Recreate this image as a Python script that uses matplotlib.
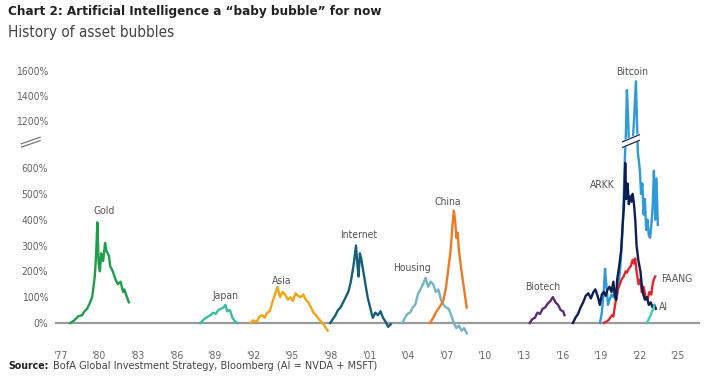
import matplotlib as mpl
mpl.use('Agg')
from matplotlib import pyplot as plt
import numpy as np

plt.rcParams['font.family'] = ['DejaVu Sans']
plt.rcParams['font.stretch'] = 'condensed'

# bubble series: (year, % gain)
gold_x = [1977.8, 1978.1, 1978.4, 1978.7, 1978.9, 1979.1, 1979.3, 1979.5, 1979.6, 1979.7, 1979.8, 1979.9,
          1980.0, 1980.1, 1980.2, 1980.35, 1980.5, 1980.6, 1980.8, 1980.9, 1981.1, 1981.3, 1981.5, 1981.7,
          1981.9, 1982.0, 1982.2, 1982.35]
gold_y = [0, 10, 25, 30, 45, 55, 75, 100, 140, 180, 260, 390,
          230, 200, 270, 240, 310, 280, 260, 220, 200, 170, 150, 160,
          120, 130, 100, 80]

japan_x = [1987.9, 1988.2, 1988.5, 1988.7, 1988.9, 1989.1, 1989.3, 1989.5, 1989.7, 1989.85, 1990.0,
           1990.2, 1990.4, 1990.6, 1990.8]
japan_y = [0, 15, 25, 30, 40, 35, 50, 55, 60, 70, 45, 50, 20, 5, 0]

asia_x = [1991.8, 1992.0, 1992.3, 1992.5, 1992.7, 1992.9, 1993.1, 1993.3, 1993.5, 1993.7, 1993.9,
          1994.1, 1994.3, 1994.5, 1994.7, 1994.9, 1995.1, 1995.3, 1995.5, 1995.7, 1995.9, 1996.1,
          1996.3, 1996.5, 1996.7, 1996.9, 1997.1, 1997.4, 1997.6, 1997.8]
asia_y = [0, 10, 5, 25, 30, 20, 40, 45, 80, 110, 140,
          100, 120, 110, 90, 100, 85, 115, 105, 100, 110, 90,
          80, 60, 40, 30, 15, 0, -15, -30]

internet_x = [1998.0, 1998.2, 1998.4, 1998.6, 1998.8, 1999.0, 1999.2, 1999.4, 1999.6, 1999.8, 2000.0,
              2000.1, 2000.2, 2000.3, 2000.4, 2000.5, 2000.7, 2000.9, 2001.1, 2001.3, 2001.5, 2001.7,
              2001.9, 2002.1, 2002.3, 2002.5, 2002.7]
internet_y = [0, 15, 30, 50, 60, 80, 100, 120, 160, 220, 300,
              230, 180, 270, 250, 220, 160, 100, 60, 20, 40, 30,
              45, 20, 5, -15, -5]

housing_x = [2003.6, 2003.8, 2004.0, 2004.2, 2004.4, 2004.6, 2004.8, 2005.0, 2005.2, 2005.4, 2005.6,
             2005.8, 2006.0, 2006.2, 2006.4, 2006.6, 2006.8, 2007.0, 2007.2, 2007.4, 2007.6, 2007.8,
             2008.0, 2008.2, 2008.4, 2008.6]
housing_y = [0, 20, 35, 40, 60, 70, 110, 130, 150, 175, 140,
             160, 150, 120, 130, 90, 70, 60, 55, 30, 0, -20,
             -10, -30, -20, -40]

china_x = [2005.75, 2006.0, 2006.2, 2006.4, 2006.6, 2006.8, 2007.0, 2007.2, 2007.35, 2007.5, 2007.6,
           2007.7, 2007.8, 2007.9, 2008.0, 2008.2, 2008.4, 2008.6]
china_y = [0, 20, 40, 55, 70, 90, 140, 220, 280, 380, 435,
           400, 330, 350, 280, 200, 130, 60]

biotech_x = [2013.5, 2013.7, 2013.9, 2014.1, 2014.3, 2014.5, 2014.7, 2014.9, 2015.1, 2015.3, 2015.5,
             2015.7, 2015.9, 2016.1, 2016.2]
biotech_y = [0, 15, 20, 40, 35, 55, 60, 75, 85, 100, 80, 70, 50, 45, 30]

arkk_x = [2016.85, 2017.05, 2017.25, 2017.45, 2017.65, 2017.85, 2018.05, 2018.25, 2018.45, 2018.6,
          2018.8, 2018.95, 2019.1, 2019.25, 2019.4, 2019.55, 2019.7, 2019.85, 2020.0, 2020.1, 2020.2,
          2020.3, 2020.45, 2020.6, 2020.72, 2020.82, 2020.92, 2021.0, 2021.1, 2021.2, 2021.3, 2021.4,
          2021.5, 2021.6, 2021.7, 2021.8, 2021.95, 2022.1, 2022.2, 2022.3, 2022.45, 2022.6, 2022.75,
          2022.9, 2023.05, 2023.2, 2023.3]
arkk_y = [0, 20, 35, 60, 80, 105, 115, 95, 120, 130,
          100, 70, 110, 120, 105, 130, 140, 120, 160, 110, 90,
          170, 220, 280, 380, 450, 620, 480, 540, 460, 490, 470,
          500, 460, 400, 300, 240, 200, 150, 115, 90, 100, 70,
          80, 60, 70, 55]

bitcoin_x = [2018.96, 2019.1, 2019.25, 2019.35, 2019.45, 2019.58, 2019.7, 2019.85, 2020.0, 2020.12,
             2020.25, 2020.4, 2020.5, 2020.6, 2020.7, 2020.8, 2020.9, 2020.97, 2021.05, 2021.12,
             2021.2, 2021.3, 2021.4, 2021.5, 2021.6, 2021.75, 2021.82, 2021.9, 2022.0, 2022.07,
             2022.15, 2022.25, 2022.35, 2022.45, 2022.55, 2022.65, 2022.75, 2022.85, 2022.95, 2023.05,
             2023.15, 2023.25, 2023.35, 2023.45]
bitcoin_y = [0, 40, 120, 210, 150, 70, 90, 110, 100, 130,
             90, 160, 195, 260, 350, 480, 650, 1100, 1450, 1300,
             1050, 800, 750, 900, 1200, 1520, 1250, 660, 620, 580,
             500, 540, 420, 480, 360, 400, 340, 330, 380, 450,
             590, 400, 560, 380]

faang_x = [2019.25, 2019.45, 2019.6, 2019.75, 2019.9, 2020.0, 2020.1, 2020.2, 2020.35, 2020.5, 2020.65,
           2020.8, 2020.95, 2021.05, 2021.2, 2021.35, 2021.5, 2021.6, 2021.7, 2021.8, 2021.95, 2022.1,
           2022.2, 2022.35, 2022.5, 2022.65, 2022.8, 2022.95, 2023.05, 2023.15, 2023.25]
faang_y = [0, 5, 10, 20, 30, 25, 60, 90, 130, 150, 170,
           180, 200, 195, 210, 220, 245, 230, 250, 200, 150, 170,
           120, 140, 100, 90, 120, 110, 150, 170, 180]

ai_x = [2022.6, 2022.7, 2022.8, 2022.9, 2023.0, 2023.1, 2023.2]
ai_y = [0, 10, 20, 30, 45, 55, 70]

names = ['Gold', 'Japan', 'Asia', 'Internet', 'Housing', 'China', 'Biotech',
         'ARKK', 'Bitcoin', 'FAANG', 'AI']
xs = [gold_x, japan_x, asia_x, internet_x, housing_x, china_x, biotech_x,
      arkk_x, bitcoin_x, faang_x, ai_x]
ys = [gold_y, japan_y, asia_y, internet_y, housing_y, china_y, biotech_y,
      arkk_y, bitcoin_y, faang_y, ai_y]
colors = ['#1f9e4a', '#35bf9f', '#f2a516', '#175f79', '#74b4c5', '#f07a24', '#5c2d72',
          '#0c1f52', '#2e9ad8', '#e2262d', '#3fd0b0']
# label anchor (year, value)
label_x = [1980.4, 1989.9, 1994.2, 2000.2, 2004.35, 2007.15, 2014.5, 2019.1, 2021.45, 2024.9, 2023.9]
label_y = [434, 105, 163, 341, 213, 469, 140, 535, 1596, 170, 62]

ytick_vals = [0, 100, 200, 300, 400, 500, 600, 1200, 1400, 1600]
xtick_years = list(range(1977, 2026, 3))


# broken y axis: 700..1040 squeezed, upper part at about half scale
def fwd(v):
    v = np.asarray(v, dtype=float)
    return np.where(v <= 700, v, np.where(v <= 1040, 700 + (v - 700) * 0.01,
                                          703.4 + (v - 1040) * 0.485))


def inv(d):
    d = np.asarray(d, dtype=float)
    return np.where(d <= 700, d, np.where(d <= 703.4, 700 + (d - 700) / 0.01,
                                          1040 + (d - 703.4) / 0.485))


fig = plt.figure(figsize=(7.04, 3.78), dpi=100)
ax = fig.add_axes([55 / 704, 1 - 340 / 378, 645 / 704, 280 / 378])
ax.set_yscale('function', functions=(fwd, inv))

ax.axhline(0, color='#9a9a9a', lw=1.6, zorder=1)
order = [0, 1, 2, 3, 4, 5, 6, 8, 9, 7, 10]
for i in order:
    ax.plot(xs[i], ys[i], color=colors[i], lw=1.7, zorder=3, solid_joinstyle='round')

for i in range(len(names)):
    ax.text(label_x[i], label_y[i], names[i], ha='center', va='center',
            fontsize=7.5, color='#555555', zorder=5)

ax.set_xlim(1976.61, 2026.73)
ax.set_ylim(-66, 1690)
ax.set_yticks(ytick_vals)
ax.set_yticklabels([f'{v}%' for v in ytick_vals])
ax.set_xticks(xtick_years)
ax.set_xticklabels([f"'{y % 100:02d}" for y in xtick_years])
ax.tick_params(length=0, labelsize=7.5, labelcolor='#666666')
ax.tick_params(axis='y', pad=5)
ax.tick_params(axis='x', pad=8)
for s in ax.spines.values():
    s.set_visible(False)

# break marks on the axis and on the bitcoin line
for dy in (0, 0.012):
    ax.plot([-0.052, -0.023], [0.689 + dy, 0.712 + dy], transform=ax.transAxes,
            color='#777777', lw=0.9, clip_on=False)
ax.fill([0.880, 0.906, 0.906, 0.880], [0.688, 0.713, 0.735, 0.710], transform=ax.transAxes,
        color='white', zorder=6)
for dy in (0, 0.02):
    ax.plot([0.880, 0.906], [0.688 + dy, 0.713 + dy], transform=ax.transAxes,
            color='#1a2a4a', lw=0.9, zorder=7)

fig.text(8 / 704, 1 - 12 / 378, 'Chart 2: Artificial Intelligence a \u201cbaby bubble\u201d for now',
         fontsize=9.6, fontweight='bold', color='#222222', va='center')
fig.text(8 / 704, 1 - 33 / 378, 'History of asset bubbles', fontsize=11, color='#444444', va='center')
fig.text(8 / 704, 1 - 366 / 378, 'Source:', fontsize=7.6, fontweight='bold', color='#222222', va='center')
fig.text(53 / 704, 1 - 366 / 378, 'BofA Global Investment Strategy, Bloomberg (AI = NVDA + MSFT)',
         fontsize=7.8, color='#444444', va='center')

plt.savefig('out.png', dpi=100)
plt.close()
